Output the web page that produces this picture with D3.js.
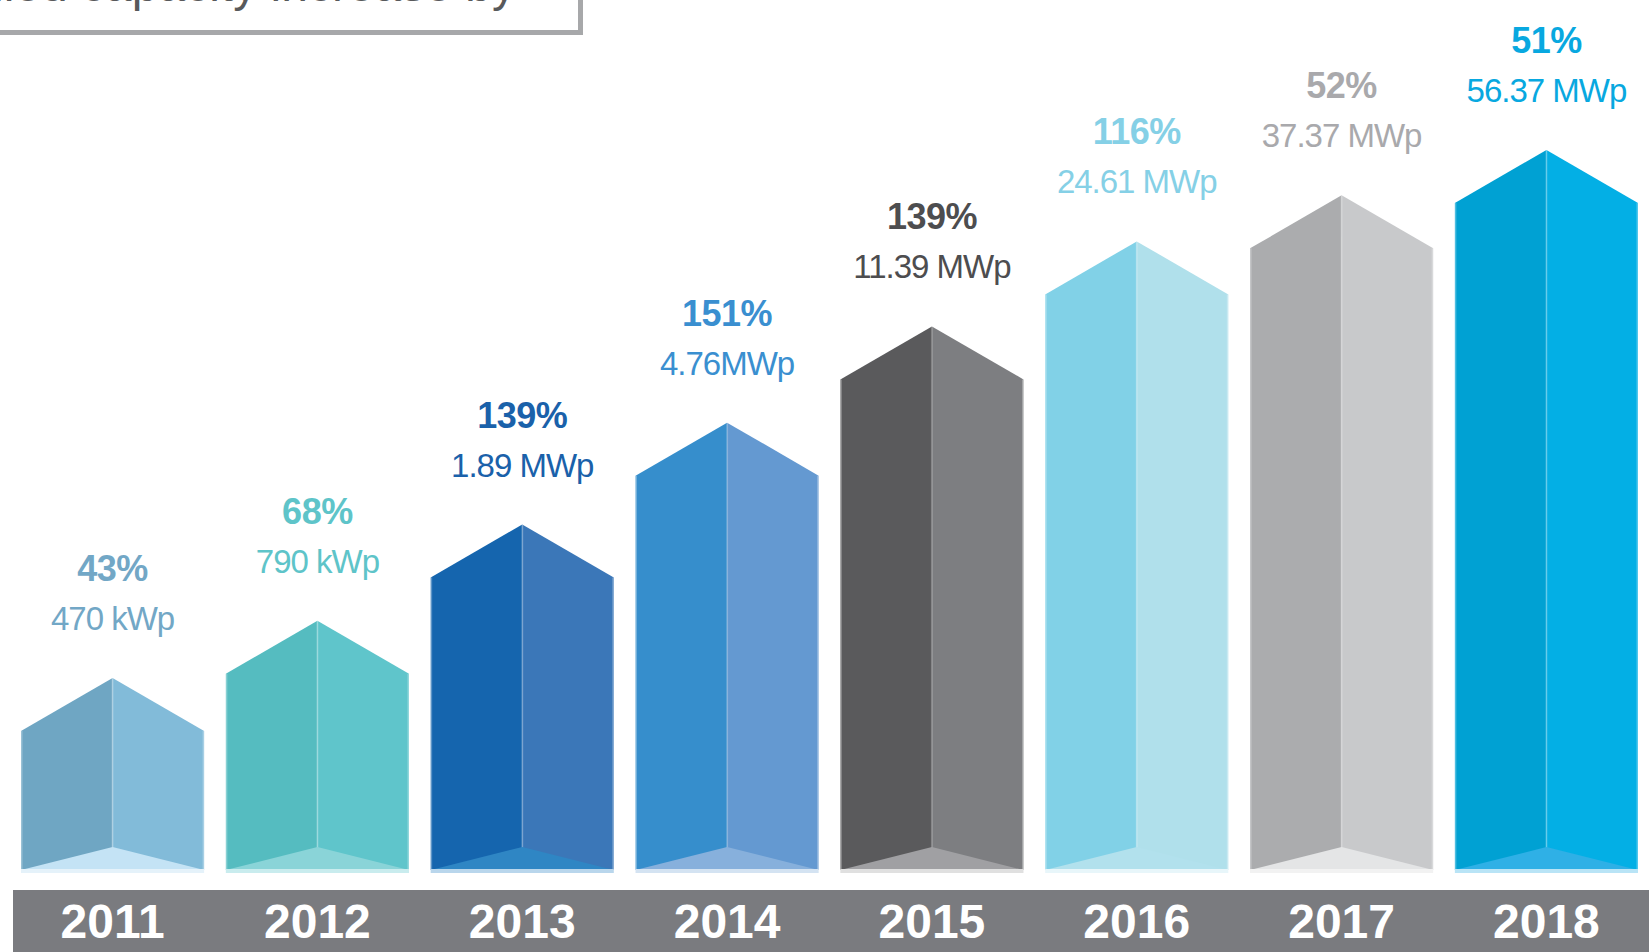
<!DOCTYPE html>
<html>
  <head>
    <meta charset="UTF-8" />
    <script src="https://d3js.org/d3.v7.min.js"></script>
    <title>Installed capacity</title>
    <style>
      body { margin: 0; background: #fff; }
      svg { display: block; font-family: "Liberation Sans", Arial, sans-serif; }
    </style>
  </head>
  <body>
    <div id="chart"></div>
    <script type="text/javascript">
      // data
      const years = ["2011", "2012", "2013", "2014", "2015", "2016", "2017", "2018"];
      const capacity = [0.47, 0.79, 1.89, 4.76, 11.39, 24.61, 37.37, 56.37]; // MWp
      const capacityLabels = ["470 kWp", "790 kWp", "1.89 MWp", "4.76MWp", "11.39 MWp", "24.61 MWp", "37.37 MWp", "56.37 MWp"];
      const growth = ["43%", "68%", "139%", "151%", "139%", "116%", "52%", "51%"];

      // colours per year
      const leftColors = ["#6fa6c3", "#55bcc0", "#1565ae", "#368ecc", "#5a5a5c", "#81d1e7", "#abacae", "#00a1d3"];
      const rightColors = ["#82bbd9", "#5fc5cb", "#3b77b8", "#6499d1", "#7d7e81", "#b0e0eb", "#c8c9cb", "#03afe5"];
      const baseColors = ["#c4e3f5", "#8ad4d8", "#2f86c4", "#87b0dc", "#a0a0a3", "#b2e1ed", "#e4e5e6", "#2fb0e6"];
      const stripColors = ["#e5f2fa", "#c9ecee", "#b9d6ec", "#d4e3f2", "#e0e0e0", "#e8f6fa", "#f2f2f2", "#b9e4f6"];
      const labelColors = ["#72a7c6", "#5ec4c9", "#1a61aa", "#3a8fd0", "#4d4d4f", "#85d0e6", "#a9a9ac", "#08a8e0"];

      const w = 1649;
      const h = 952;
      const bottom = 870; // foot of the bars
      const roof = 53; // height of the pointed top

      const data = years.map(function (y, i) {
        return {
          year: y,
          value: capacity[i],
          label: capacityLabels[i],
          pct: growth[i],
          i: i,
        };
      });

      const svg = d3.select("#chart").append("svg").attr("width", w).attr("height", h);

      const x = d3.scaleBand().domain(years).range([21, 1638]).paddingInner(0.106).paddingOuter(0);
      // bars are drawn on a log scale (shoulder height)
      const y = d3.scaleLog().domain([0.47, 56.37]).range([731, 203]);

      // title box (cut at the top)
      svg
        .append("text")
        .attr("x", 516)
        .attr("y", 1)
        .attr("text-anchor", "end")
        .attr("fill", "#58595b")
        .style("font-size", "48px")
        .text("Installed capacity increase by");
      svg
        .append("rect")
        .attr("x", -10)
        .attr("y", -50)
        .attr("width", 590.5)
        .attr("height", 82.5)
        .attr("fill", "none")
        .attr("stroke", "#a7a8aa")
        .attr("stroke-width", 5);

      const bars = svg
        .selectAll("g.bar")
        .data(data)
        .enter()
        .append("g")
        .attr("class", "bar");

      // left face
      bars
        .append("path")
        .attr("fill", function (d) { return leftColors[d.i]; })
        .attr("d", function (d) {
          const x0 = x(d.year), xc = x0 + x.bandwidth() / 2, s = y(d.value);
          return "M" + x0 + "," + bottom + "L" + x0 + "," + s + "L" + xc + "," + (s - roof) + "L" + xc + "," + bottom + "Z";
        });

      // right face
      bars
        .append("path")
        .attr("fill", function (d) { return rightColors[d.i]; })
        .attr("d", function (d) {
          const x0 = x(d.year), x1 = x0 + x.bandwidth(), xc = x0 + x.bandwidth() / 2, s = y(d.value);
          return "M" + xc + "," + bottom + "L" + xc + "," + (s - roof) + "L" + x1 + "," + s + "L" + x1 + "," + bottom + "Z";
        });

      // thin highlight down the middle
      bars
        .append("line")
        .attr("x1", function (d) { return x(d.year) + x.bandwidth() / 2; })
        .attr("x2", function (d) { return x(d.year) + x.bandwidth() / 2; })
        .attr("y1", function (d) { return y(d.value) - roof; })
        .attr("y2", bottom)
        .attr("stroke", "#fff")
        .attr("stroke-opacity", 0.2)
        .attr("stroke-width", 2);

      // side edges
      bars
        .append("path")
        .attr("fill", "none")
        .attr("stroke", "#fff")
        .attr("stroke-opacity", 0.3)
        .attr("stroke-width", 1.5)
        .attr("d", function (d) {
          const x0 = x(d.year) + 0.75, x1 = x(d.year) + x.bandwidth() - 0.75, s = y(d.value);
          return "M" + x0 + "," + bottom + "L" + x0 + "," + s + "M" + x1 + "," + s + "L" + x1 + "," + bottom;
        });

      // bottom wedge
      bars
        .append("path")
        .attr("fill", function (d) { return baseColors[d.i]; })
        .attr("d", function (d) {
          const x0 = x(d.year), x1 = x0 + x.bandwidth(), xc = x0 + x.bandwidth() / 2;
          return "M" + (x0 + 4) + "," + (bottom - 1) + "L" + xc + "," + (bottom - 23) + "L" + (x1 - 4) + "," + (bottom - 1) + "Z";
        });

      bars
        .append("rect")
        .attr("x", function (d) { return x(d.year); })
        .attr("y", bottom - 1)
        .attr("width", x.bandwidth())
        .attr("height", 4)
        .attr("fill", function (d) { return stripColors[d.i]; });

      // labels above each bar
      bars
        .append("text")
        .attr("x", function (d) { return x(d.year) + x.bandwidth() / 2; })
        .attr("y", function (d) { return y(d.value) - roof - 97; })
        .attr("text-anchor", "middle")
        .attr("fill", function (d) { return labelColors[d.i]; })
        .style("font-size", "36px")
        .style("font-weight", "bold")
        .style("letter-spacing", "-0.5px")
        .text(function (d) { return d.pct; });

      bars
        .append("text")
        .attr("x", function (d) { return x(d.year) + x.bandwidth() / 2; })
        .attr("y", function (d) { return y(d.value) - roof - 48; })
        .attr("text-anchor", "middle")
        .attr("fill", function (d) { return labelColors[d.i]; })
        .style("font-size", "33px")
        .style("letter-spacing", "-1px")
        .text(function (d) { return d.label; });

      // year band
      svg
        .append("rect")
        .attr("x", 13)
        .attr("y", 890)
        .attr("width", w - 13)
        .attr("height", h - 890)
        .attr("fill", "#7a7b7f");

      svg
        .selectAll("text.year")
        .data(data)
        .enter()
        .append("text")
        .attr("class", "year")
        .attr("x", function (d) { return x(d.year) + x.bandwidth() / 2; })
        .attr("y", 938)
        .attr("text-anchor", "middle")
        .attr("fill", "#fff")
        .style("font-size", "48px")
        .style("font-weight", "bold")
        .text(function (d) { return d.year; });
    </script>
  </body>
</html>
